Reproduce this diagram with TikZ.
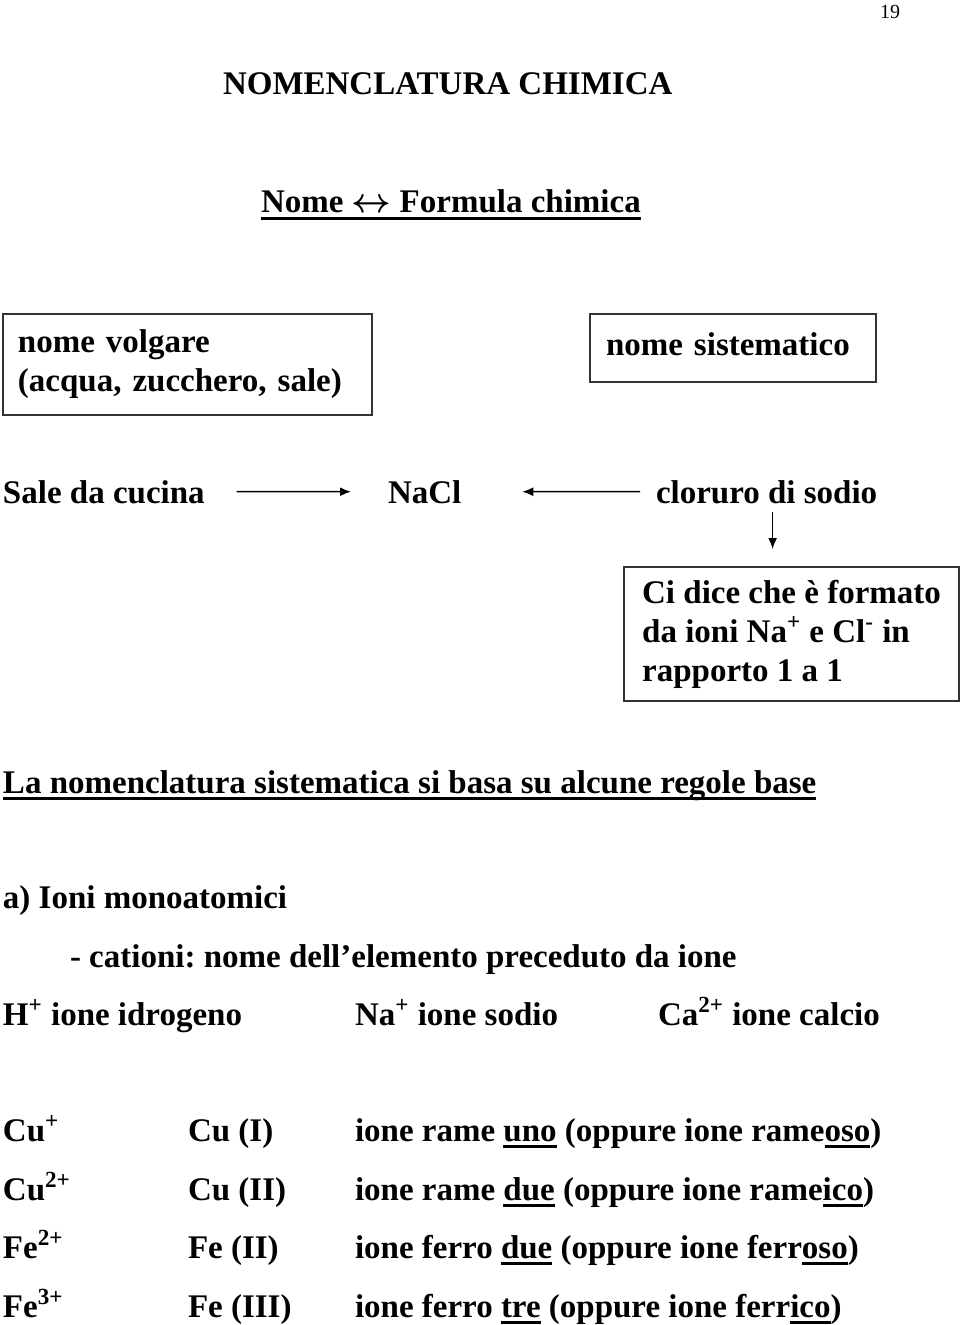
\documentclass[tikz,border=0pt]{standalone}
\usepackage{fontspec}
\setmainfont{Liberation Serif}
\usetikzlibrary{arrows.meta}
\frenchspacing
\newcommand\ulw[1]{{\setbox0\hbox{#1}\dp0=0pt\relax\vtop{\copy0\kern1.75pt\hrule height1.5pt}}}
\begin{document}
\frenchspacing
\begin{tikzpicture}[x=0.5pt,y=-0.5pt,
  font=\fontsize{16.5pt}{19.5pt}\selectfont\bfseries\frenchspacing,
  txt/.style={anchor=base west, inner sep=0pt, outer sep=0pt},
  boxn/.style={draw=black!80, line width=1pt, anchor=north west, align=left, inner ysep=0pt},
  arr/.style={line width=0.75pt, -{Latex[length=5.5pt,width=4.5pt]}},
  ulline/.style={line width=1.5pt}]
\useasboundingbox (0,0) rectangle (960,1325);

\node[txt, font=\fontsize{10pt}{12pt}\selectfont\mdseries] (pg) at (880,19) {19};
\node[txt] (title) at (223,95) {NOMENCLATURA CHIMICA};
\node[txt] (sub) at (261,213) {Nome {\boldmath$\leftrightarrow$} Formula chimica};
\draw[ulline] ([yshift=-2.65pt]sub.base west) -- ([yshift=-2.65pt]sub.base east);

\node[boxn, minimum width=184.5pt, minimum height=50.5pt, text width=169.5pt, inner xsep=7.5pt] (volg) at (2,313)
  {nome volgare\\(acqua, zucchero, sale)};
\node[boxn, minimum width=143pt, minimum height=34pt, text width=127pt, inner xsep=8pt] (sist) at (589,313)
  {\strut nome sistematico};

\node[txt] (sale) at (3,503) {Sale da cucina};
\node[txt] (nacl) at (388,503) {NaCl};
\node[txt] (clor) at (656,503) {cloruro di sodio};
\node[boxn, minimum width=167.5pt, minimum height=67pt, inner xsep=0pt] (ci) at (623,566)
  {Ci dice che è formato\\da ioni Na\textsuperscript{+} e Cl\textsuperscript{-} in\\rapporto 1 a 1};

\draw[arr, shorten <=16pt, shorten >=18.5pt] (sale.east) -- (nacl.west);
\draw[arr, shorten <=8pt, shorten >=30.5pt] (clor.west) -- (nacl.east);
\path ([xshift=3pt]clor.south) coordinate (d0);
\draw[arr, shorten <=4.5pt, shorten >=8.5pt] (d0) -- (d0 |- ci.north);

\node[txt] (reg) at (3,793) {La nomenclatura sistematica si basa su alcune regole base};
\draw[ulline] ([yshift=-2.75pt]reg.base west) -- ([yshift=-2.75pt]reg.base east);

\node[txt] (ioni) at (3,908) {a) Ioni monoatomici};
\node[txt] (cat) at (70,967) {- cationi: nome dell’elemento preceduto da ione};
\node[txt] (hion) at (3,1025) {H\textsuperscript{+} ione idrogeno};
\node[txt] (naion) at (355,1025) {Na\textsuperscript{+} ione sodio};
\node[txt] (caion) at (658,1025) {Ca\textsuperscript{2+} ione calcio};

\node[txt] (a1) at (3,1141) {Cu\textsuperscript{+}};
\node[txt] (b1) at (188,1141) {Cu (I)};
\node[txt] (c1) at (355,1141) {ione rame \ulw{uno} (oppure ione rame\ulw{oso})};
\node[txt] (a2) at (3,1200) {Cu\textsuperscript{2+}};
\node[txt] (b2) at (188,1200) {Cu (II)};
\node[txt] (c2) at (355,1200) {ione rame \ulw{due} (oppure ione rame\ulw{ico})};
\node[txt] (a3) at (3,1258) {Fe\textsuperscript{2+}};
\node[txt] (b3) at (188,1258) {Fe (II)};
\node[txt] (c3) at (355,1258) {ione ferro \ulw{due} (oppure ione ferr\ulw{oso})};
\node[txt] (a4) at (3,1317) {Fe\textsuperscript{3+}};
\node[txt] (b4) at (188,1317) {Fe (III)};
\node[txt] (c4) at (355,1317) {ione ferro \ulw{tre} (oppure ione ferr\ulw{ico})};
\end{tikzpicture}
\end{document}
